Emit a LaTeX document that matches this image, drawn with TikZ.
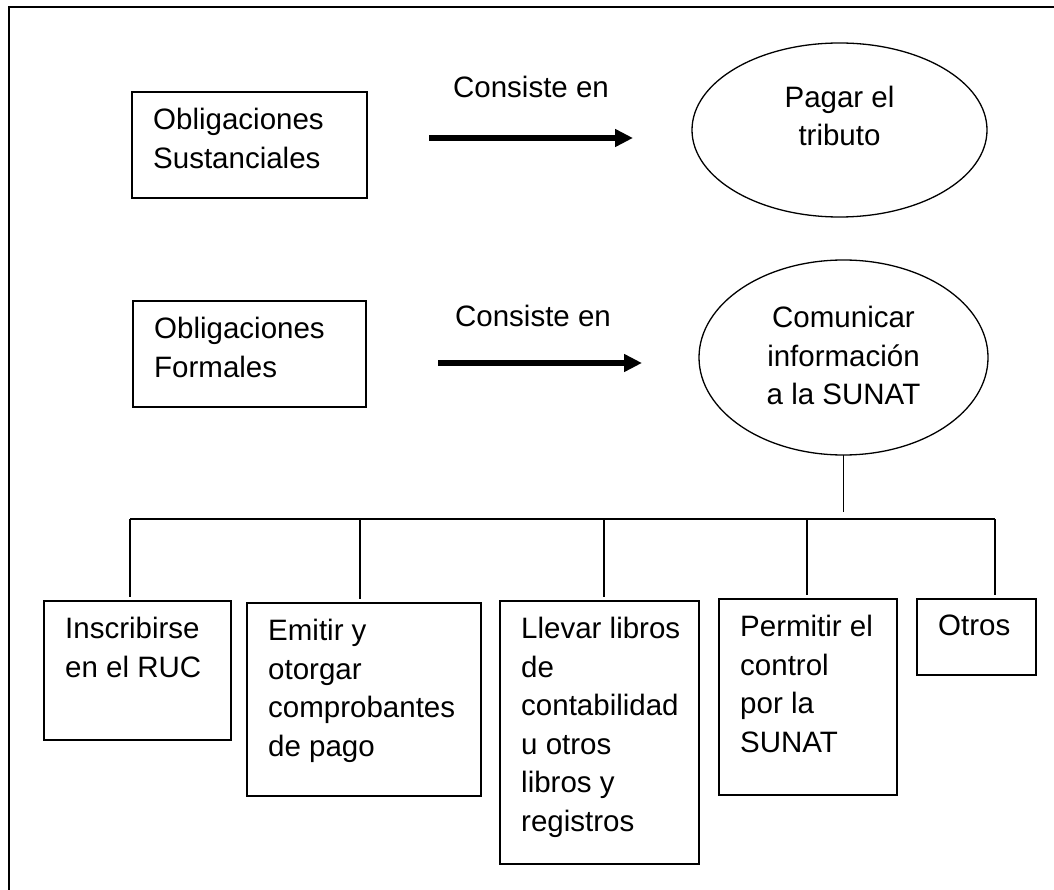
\documentclass[tikz,border=0pt]{standalone}
\usepackage{fontspec}
\setmainfont{Liberation Sans}
\usetikzlibrary{shapes.geometric,arrows.meta}

\tikzset{
    caja/.style 2 args={draw, line width=1.8pt, minimum width=#1, minimum height=#2,
        anchor=north west, inner sep=0pt, outer sep=0pt},
    elipse/.style 2 args={draw, ellipse, line width=1.3pt, minimum width=#1,
        minimum height=#2, inner sep=0pt, outer sep=0pt},
    texto/.style={anchor=north west, inner xsep=21pt, inner ysep=16pt, align=left,
        font=\fontsize{29.5}{38.6}\selectfont},
    etexto/.style={align=center, inner sep=0pt, font=\fontsize{29.5}{38.6}\selectfont},
    rotulo/.style={inner sep=0pt, font=\fontsize{29.5}{38.6}\selectfont},
    flecha/.style={line width=5.5pt, -{Triangle[length=18pt,width=17pt]}},
    linea/.style={line width=1.3pt}
}

\begin{document}
\begin{tikzpicture}[x=1pt,y=-1pt]
    \useasboundingbox (0,0) rectangle (1054,890);
    % Marco
    \draw[line width=2.3pt] (9,890) -- (9,7) -- (1054,7);

    % Obligaciones sustanciales
    \node[caja={235pt}{106pt}] (sus) at (132,92) {};
    \node[texto] (sus-t) at (sus.north west) {Obligaciones\\Sustanciales};
    \node[rotulo] (con1) at (531,87) {Consiste en};
    \coordinate (f1a) at (429,138);
    \coordinate (f1b) at (633,138);
    \draw[flecha] (f1a) -- (f1b);
    \node[elipse={295pt}{174pt}] (pagar) at (839.5,130) {};
    \node[etexto] (pagar-t) at ([yshift=14pt]pagar.center) {Pagar el\\tributo};

    % Obligaciones formales
    \node[caja={233pt}{106pt}] (for) at (133,301) {};
    \node[texto] (for-t) at (for.north west) {Obligaciones\\Formales};
    \node[rotulo] (con2) at (533,316) {Consiste en};
    \coordinate (f2a) at (438,363);
    \coordinate (f2b) at (642,363);
    \draw[flecha] (f2a) -- (f2b);
    \node[elipse={289pt}{195pt}] (comu) at (843.5,357.5) {};
    \node[etexto] (comu-t) at ([yshift=2pt]comu.center) {Comunicar\\informaci\'on\\a la SUNAT};

    % Obligaciones formales: detalle
    \node[caja={187pt}{139pt}] (ruc) at (44,601) {};
    \node[texto] (ruc-t) at (ruc.north west) {Inscribirse\\en el RUC};
    \node[caja={234pt}{193pt}] (emi) at (247,603) {};
    \node[texto] (emi-t) at (emi.north west) {Emitir y\\otorgar\\comprobantes\\de pago};
    \node[caja={199pt}{263pt}] (lib) at (500,601) {};
    \node[texto] (lib-t) at (lib.north west) {Llevar libros\\de\\contabilidad\\u otros\\libros y\\registros};
    \node[caja={178pt}{196pt}] (ctl) at (719,599) {};
    \node[texto] (ctl-t) at (ctl.north west) {Permitir el\\control\\por la\\SUNAT};
    \node[caja={119pt}{76pt}] (otr) at (917,599) {};
    \node[texto] (otr-t) at (otr.north west) {Otros};

    % Ramas
    \coordinate (tallo) at (comu.south |- 0,512);
    \draw[linea] (comu.south) -- (tallo);
    \foreach \x/\caja in {130/ruc,360/emi,604/lib,807/ctl,995/otr}
        \coordinate (r-\caja) at (\x,519);
    \draw[linea] (r-ruc) -- (r-otr);
    \foreach \caja in {ruc,emi,lib,ctl,otr}
        \draw[linea, shorten >=4pt] (r-\caja) -- (r-\caja |- \caja.north);
\end{tikzpicture}
\end{document}
